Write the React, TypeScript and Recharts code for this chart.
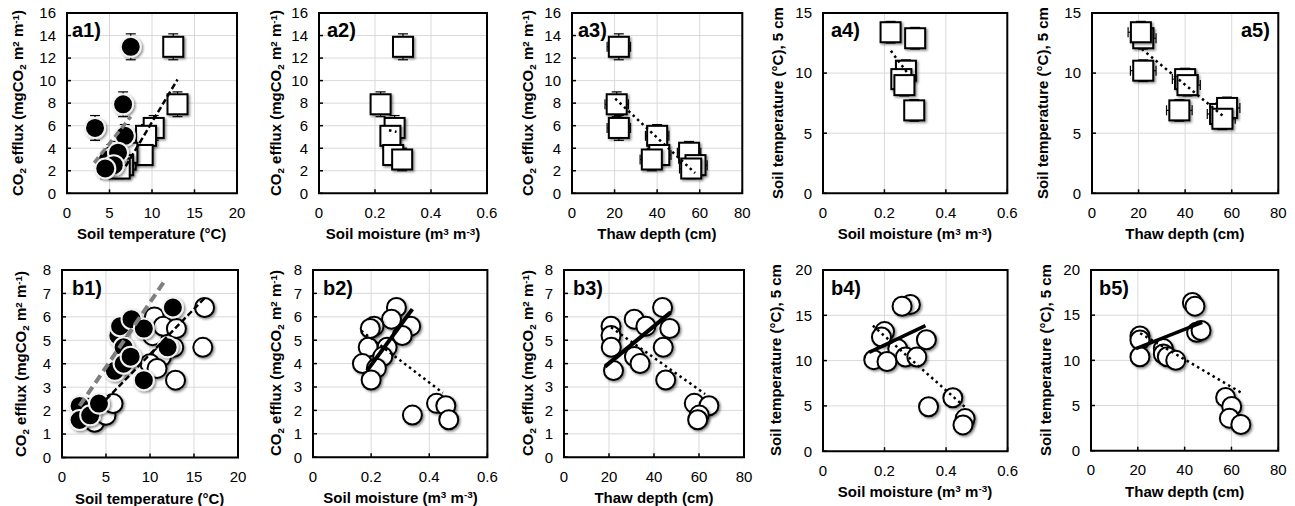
import React from 'react';
import {
  ScatterChart,
  Scatter,
  XAxis,
  YAxis,
  CartesianGrid,
  ErrorBar,
  ReferenceArea,
} from 'recharts';

const FONT = '"Liberation Sans", Arial, Helvetica, sans-serif';

// ---------- Row a (9 sampling points) ----------
const aEfflux = [13.0, 7.9, 5.8, 5.1, 3.4, 3.0, 3.6, 2.5, 2.2];
const aEffluxErr = [1.15, 1.1, 1.1, 1.0, 0.9, 1.0, 1.0, 1.0, 0.9];
const aTempSquare = [12.5, 13.0, 10.2, 9.3, 8.9, 6.9, 7.1, 6.6, 6.2];
const aTempCircle = [7.5, 6.6, 3.3, 6.8, 5.2, 4.8, 6.0, 5.5, 4.5];
const aMoisture: (number | null)[] = [0.3, 0.22, 0.27, 0.255, 0.265, 0.297, null, null, null];
const aDepth = [22, 21, 22, 40, 41, 37.5, 55, 58, 56];
const aDepthErr = [5.5, 5.5, 5.5, 5.5, 5.5, 5.5, 5.5, 5.5, 5.5];
const aTemp5 = [12.9, 13.4, 10.2, 9.5, 9.0, 6.9, 6.6, 7.1, 6.2];
const aTemp5Err = [0.9, 0.9, 0.9, 0.9, 0.9, 0.9, 0.9, 0.9, 0.9];

// ---------- Row b ----------
const b1BlackTemp = [2.0, 2.0, 3.2, 4.2, 6.0, 6.4, 6.6, 7.0, 7.0, 7.8, 7.9, 9.3, 9.3, 12.0, 12.6];
const b1BlackEfflux = [2.2, 1.6, 1.8, 2.3, 3.7, 5.2, 5.6, 4.7, 4.0, 4.3, 5.9, 5.5, 3.3, 4.7, 6.4];
const b1WhiteTemp = [3.0, 3.7, 5.0, 5.8, 10.5, 10.3, 11.5, 13.0, 12.7, 11.3, 10.0, 10.8, 12.9, 16.0, 16.2];
const b1WhiteEfflux = [2.1, 1.5, 1.8, 2.3, 6.0, 5.2, 5.6, 5.5, 4.7, 4.3, 4.0, 3.8, 3.3, 4.7, 6.4];

const b2Moisture = [0.287, 0.27, 0.336, 0.21, 0.197, 0.307, 0.19, 0.255, 0.24, 0.17, 0.218, 0.2, 0.425, 0.457, 0.342, 0.467];
const b2Efflux = [6.4, 5.9, 5.6, 5.6, 5.5, 5.2, 4.7, 4.7, 4.3, 4.0, 3.8, 3.3, 2.3, 2.2, 1.8, 1.6];

const b3Depth = [43.8, 31.2, 20.9, 36.4, 47, 20.9, 21, 44.1, 31.3, 33.8, 22, 45.2, 57.9, 64.4, 60.1, 59.4];
const b3Efflux = [6.4, 5.9, 5.6, 5.6, 5.5, 5.2, 4.7, 4.7, 4.3, 4.0, 3.7, 3.3, 2.3, 2.2, 1.8, 1.6];

const b4Moisture = [0.284, 0.257, 0.2, 0.19, 0.336, 0.243, 0.165, 0.208, 0.268, 0.305, 0.422, 0.343, 0.462, 0.455];
const b4Temp = [16.2, 16.0, 13.2, 12.6, 12.3, 11.3, 10.1, 9.9, 10.4, 10.4, 5.9, 4.9, 3.6, 2.9];

const b5Depth = [43.3, 44.4, 20.9, 20.9, 45.1, 47.0, 30.9, 30.9, 32.6, 20.9, 36.2, 57.5, 60.1, 59.1, 64.0];
const b5Temp = [16.4, 16.0, 12.7, 12.25, 13.1, 13.3, 11.3, 10.7, 10.4, 10.4, 10.0, 5.9, 4.9, 3.6, 2.9];

// trend lines: [x1, y1, x2, y2]
const a1GrayTrend = [3.2, 2.7, 7.5, 6.8];
const a1BlackTrend = [6.9, 2.4, 13.0, 10.1];
const a2Trend = [0.25, 5.6, 0.277, 5.45];
const a3Trend = [20.3, 8.4, 57.8, 1.8];
const a4Trend = [0.221, 11.85, 0.278, 9.9];
const a5Trend = [21.4, 12.0, 57.1, 6.3];
const b1GrayTrend = [2.0, 2.2, 11.6, 7.5];
const b1BlackTrend = [4.3, 2.2, 16.2, 6.8];
const b2Solid = [0.186, 3.7, 0.342, 6.33];
const b2Dotted = [0.166, 5.4, 0.447, 2.75];
const b3Solid = [18.2, 3.87, 47.4, 6.19];
const b3Dotted = [20.9, 5.55, 62.7, 2.7];
const b4Solid = [0.15, 10.9, 0.333, 13.86];
const b4Dotted = [0.162, 13.86, 0.462, 4.85];
const b5Solid = [19.2, 11.3, 47.5, 14.2];
const b5Dotted = [21, 13.0, 64.3, 6.4];

const tempTicks = [0, 5, 10, 15, 20];
const moistTicks = [0, 0.2, 0.4, 0.6];
const depthTicks = [0, 20, 40, 60, 80];
const aEffluxTicks = [0, 2, 4, 6, 8, 10, 12, 14, 16];
const aTempTicks = [0, 5, 10, 15];
const bEffluxTicks = [0, 1, 2, 3, 4, 5, 6, 7, 8];
const bTempTicks = [0, 5, 10, 15, 20];

type Pt = { x: number; y: number; ex?: number; ey?: number };

function build(
  xs: (number | null)[],
  ys: (number | null)[],
  exs?: number[],
  eys?: number[]
): Pt[] {
  const out: Pt[] = [];
  xs.forEach((x, i) => {
    const y = ys[i];
    if (x == null || y == null) return;
    const p: Pt = { x, y };
    if (exs) p.ex = exs[i];
    if (eys) p.ey = eys[i];
    out.push(p);
  });
  return out;
}

const Square = (p: any) => (
  <rect
    x={p.cx - 10}
    y={p.cy - 10}
    width={20}
    height={20}
    fill="#fff"
    stroke="#000"
    strokeWidth={2}
    filter="url(#shd)"
  />
);
const BlackDot = (p: any) => (
  <circle cx={p.cx} cy={p.cy} r={10} fill="#000" stroke="#f2f2f2" strokeWidth={2} filter="url(#shd)" />
);
const WhiteDot = (p: any) => (
  <circle cx={p.cx} cy={p.cy} r={9.5} fill="#fff" stroke="#000" strokeWidth={2} filter="url(#shd)" />
);
const NoShape = () => <g />;

type SeriesDef = { data: Pt[]; shape: any; ex?: boolean; ey?: boolean };
type LineDef = { seg: number[]; color: string; width: number; dash?: string };

const DOT = '2.5 3.5';

const Sub = ({ c }: { c: string }) => (
  <span style={{ fontSize: '0.66em', position: 'relative', top: '0.3em' }}>{c}</span>
);
const Sup = ({ c }: { c: string }) => (
  <span style={{ fontSize: '0.66em', position: 'relative', top: '-0.45em' }}>{c}</span>
);

const EffluxTitle = (
  <>
    CO<Sub c="2" /> efflux (mgCO<Sub c="2" /> m<Sup c="2" /> m<Sup c="-1" />)
  </>
);
const TempTitle = <>Soil temperature (°C), 5 cm</>;
const XTemp = <>Soil temperature (°C)</>;
const XMoist = (
  <>
    Soil moisture (m<Sup c="3" /> m<Sup c="-3" />)
  </>
);
const XDepth = <>Thaw depth (cm)</>;

const Txt = ({ x, y, rot, children }: any) => (
  <div
    style={{
      position: 'absolute',
      left: x,
      top: y,
      transform: `translate(-50%, -50%)${rot ? ' rotate(-90deg)' : ''}`,
      whiteSpace: 'nowrap',
      fontFamily: FONT,
      fontWeight: 'bold',
      fontSize: 15,
      lineHeight: 1,
      color: '#000',
    }}
  >
    {children}
  </div>
);

type PanelProps = {
  l: number;
  r: number;
  t: number;
  b: number;
  xDomain: number[];
  xTicks: number[];
  yDomain: number[];
  yTicks: number[];
  series: SeriesDef[];
  lines: LineDef[];
  xTitle: React.ReactNode;
  yTitle: React.ReactNode;
  yTitleX: number;
  tag: string;
  tagX: number;
  tagY: number;
};

const ML = 60;
const MT = 10;
const MR = 12;
const MB = 60;

function Panel(p: PanelProps) {
  const w = p.r - p.l + ML + MR;
  const h = p.b - p.t + MT + MB;
  return (
    <>
      <div style={{ position: 'absolute', left: p.l - ML, top: p.t - MT }}>
        <ScatterChart width={w} height={h} margin={{ top: MT, right: MR, bottom: 0, left: 0 }}>
          <CartesianGrid stroke="#d9d9d9" strokeWidth={1} />
          <XAxis
            type="number"
            dataKey="x"
            domain={p.xDomain}
            ticks={p.xTicks}
            interval={0}
            height={MB}
            axisLine={false}
            tickLine={{ stroke: '#000', strokeWidth: 1.5 }}
            tickSize={-4}
            tickMargin={18}
            tick={{ fontSize: 15, fill: '#000', fontFamily: FONT }}
          />
          <YAxis
            type="number"
            dataKey="y"
            domain={p.yDomain}
            ticks={p.yTicks}
            interval={0}
            width={ML}
            axisLine={false}
            tickLine={{ stroke: '#000', strokeWidth: 1.5 }}
            tickSize={-4}
            tickMargin={15}
            tick={{ fontSize: 15, fill: '#000', fontFamily: FONT }}
          />
          <ReferenceArea
            x1={p.xDomain[0]}
            x2={p.xDomain[1]}
            y1={p.yDomain[0]}
            y2={p.yDomain[1]}
            fill="none"
            fillOpacity={0}
            stroke="#000"
            strokeWidth={2}
          />
          {p.series.map((s, i) => (
            <Scatter key={i} data={s.data} shape={s.shape} isAnimationActive={false}>
              {s.ey && <ErrorBar dataKey="ey" direction="y" width={5} stroke="#000" strokeWidth={1.2} />}
              {s.ex && <ErrorBar dataKey="ex" direction="x" width={5} stroke="#000" strokeWidth={1.2} />}
            </Scatter>
          ))}
          {p.lines.map((ln, i) => (
            <Scatter
              key={'l' + i}
              data={[
                { x: ln.seg[0], y: ln.seg[1] },
                { x: ln.seg[2], y: ln.seg[3] },
              ]}
              shape={NoShape}
              line={{ stroke: ln.color, strokeWidth: ln.width, strokeDasharray: ln.dash, fill: 'none' }}
              isAnimationActive={false}
            />
          ))}
        </ScatterChart>
      </div>
      <Txt x={(p.l + p.r) / 2} y={p.b + 40}>
        {p.xTitle}
      </Txt>
      <Txt x={p.yTitleX} y={(p.t + p.b) / 2} rot>
        {p.yTitle}
      </Txt>
      <div
        style={{
          position: 'absolute',
          left: p.tagX,
          top: p.tagY - 17,
          fontFamily: FONT,
          fontWeight: 'bold',
          fontSize: 20,
          lineHeight: '20px',
          color: '#000',
          whiteSpace: 'nowrap',
        }}
      >
        {p.tag}
      </div>
    </>
  );
}

export default function App() {
  const aRowT = 13;
  const aRowB = 193.3;
  const panels: PanelProps[] = [
    {
      l: 66.7, r: 236.7, t: aRowT, b: aRowB,
      xDomain: [0, 20], xTicks: tempTicks, yDomain: [0, 16], yTicks: aEffluxTicks,
      series: [
        { data: build(aTempSquare, aEfflux, undefined, aEffluxErr), shape: Square, ey: true },
        { data: build(aTempCircle, aEfflux, undefined, aEffluxErr), shape: BlackDot, ey: true },
      ],
      lines: [
        { seg: a1GrayTrend, color: '#7f7f7f', width: 3.5, dash: '7 4' },
        { seg: a1BlackTrend, color: '#000', width: 2.5, dash: '6 3' },
      ],
      xTitle: XTemp, yTitle: EffluxTitle, yTitleX: 17, tag: 'a1)', tagX: 72, tagY: 37,
    },
    {
      l: 319, r: 487, t: aRowT, b: aRowB,
      xDomain: [0, 0.6], xTicks: moistTicks, yDomain: [0, 16], yTicks: aEffluxTicks,
      series: [{ data: build(aMoisture, aEfflux, undefined, aEffluxErr), shape: Square, ey: true }],
      lines: [{ seg: a2Trend, color: '#000', width: 2.5, dash: DOT }],
      xTitle: XMoist, yTitle: EffluxTitle, yTitleX: 275, tag: 'a2)', tagX: 327, tagY: 37,
    },
    {
      l: 571.7, r: 742, t: aRowT, b: aRowB,
      xDomain: [0, 80], xTicks: depthTicks, yDomain: [0, 16], yTicks: aEffluxTicks,
      series: [{ data: build(aDepth, aEfflux, aDepthErr, aEffluxErr), shape: Square, ey: true, ex: true }],
      lines: [{ seg: a3Trend, color: '#000', width: 2.5, dash: DOT }],
      xTitle: XDepth, yTitle: EffluxTitle, yTitleX: 527, tag: 'a3)', tagX: 578, tagY: 37,
    },
    {
      l: 822.7, r: 1007, t: aRowT, b: aRowB,
      xDomain: [0, 0.6], xTicks: moistTicks, yDomain: [0, 15], yTicks: aTempTicks,
      series: [{ data: build(aMoisture, aTemp5, undefined, aTemp5Err), shape: Square, ey: true }],
      lines: [{ seg: a4Trend, color: '#000', width: 2.5, dash: DOT }],
      xTitle: XMoist, yTitle: TempTitle, yTitleX: 777, tag: 'a4)', tagX: 831, tagY: 37,
    },
    {
      l: 1091.7, r: 1278, t: aRowT, b: aRowB,
      xDomain: [0, 80], xTicks: depthTicks, yDomain: [0, 15], yTicks: aTempTicks,
      series: [{ data: build(aDepth, aTemp5, aDepthErr, aTemp5Err), shape: Square, ey: true, ex: true }],
      lines: [{ seg: a5Trend, color: '#000', width: 2.5, dash: DOT }],
      xTitle: XDepth, yTitle: TempTitle, yTitleX: 1042, tag: 'a5)', tagX: 1241, tagY: 37,
    },
    {
      l: 61.7, r: 237.7, t: 270, b: 457.5,
      xDomain: [0, 20], xTicks: tempTicks, yDomain: [0, 8], yTicks: bEffluxTicks,
      series: [
        { data: build(b1WhiteTemp, b1WhiteEfflux), shape: WhiteDot },
        { data: build(b1BlackTemp, b1BlackEfflux), shape: BlackDot },
      ],
      lines: [
        { seg: b1GrayTrend, color: '#7f7f7f', width: 4, dash: '9 5' },
        { seg: b1BlackTrend, color: '#000', width: 2.5, dash: '6 3' },
      ],
      xTitle: XTemp, yTitle: EffluxTitle, yTitleX: 20, tag: 'b1)', tagX: 72, tagY: 295,
    },
    {
      l: 313.3, r: 487.7, t: 269.5, b: 456.7,
      xDomain: [0, 0.6], xTicks: moistTicks, yDomain: [0, 8], yTicks: bEffluxTicks,
      series: [{ data: build(b2Moisture, b2Efflux), shape: WhiteDot }],
      lines: [
        { seg: b2Dotted, color: '#000', width: 2.5, dash: DOT },
        { seg: b2Solid, color: '#000', width: 4 },
      ],
      xTitle: XMoist, yTitle: EffluxTitle, yTitleX: 275, tag: 'b2)', tagX: 323, tagY: 295,
    },
    {
      l: 564, r: 744, t: 269.5, b: 456.7,
      xDomain: [0, 80], xTicks: depthTicks, yDomain: [0, 8], yTicks: bEffluxTicks,
      series: [{ data: build(b3Depth, b3Efflux), shape: WhiteDot }],
      lines: [
        { seg: b3Dotted, color: '#000', width: 2.5, dash: DOT },
        { seg: b3Solid, color: '#000', width: 4 },
      ],
      xTitle: XDepth, yTitle: EffluxTitle, yTitleX: 527, tag: 'b3)', tagX: 573, tagY: 295,
    },
    {
      l: 822.7, r: 1007.3, t: 269.5, b: 450.7,
      xDomain: [0, 0.6], xTicks: moistTicks, yDomain: [0, 20], yTicks: bTempTicks,
      series: [{ data: build(b4Moisture, b4Temp), shape: WhiteDot }],
      lines: [
        { seg: b4Dotted, color: '#000', width: 2.5, dash: DOT },
        { seg: b4Solid, color: '#000', width: 3.5 },
      ],
      xTitle: XMoist, yTitle: TempTitle, yTitleX: 775, tag: 'b4)', tagX: 831, tagY: 295,
    },
    {
      l: 1091, r: 1278.3, t: 270, b: 450.7,
      xDomain: [0, 80], xTicks: depthTicks, yDomain: [0, 20], yTicks: bTempTicks,
      series: [{ data: build(b5Depth, b5Temp), shape: WhiteDot }],
      lines: [
        { seg: b5Dotted, color: '#000', width: 2.5, dash: DOT },
        { seg: b5Solid, color: '#000', width: 3.5 },
      ],
      xTitle: XDepth, yTitle: TempTitle, yTitleX: 1045, tag: 'b5)', tagX: 1099, tagY: 295,
    },
  ];

  return (
    <div
      style={{
        position: 'absolute',
        left: 0,
        top: 0,
        width: 1295,
        height: 506,
        background: '#fff',
        overflow: 'hidden',
        fontFamily: FONT,
      }}
    >
      <svg width={0} height={0} style={{ position: 'absolute' }}>
        <defs>
          <filter id="shd" x="-50%" y="-50%" width="200%" height="200%">
            <feDropShadow dx={1.5} dy={1.5} stdDeviation={1.3} floodColor="#000" floodOpacity={0.45} />
          </filter>
        </defs>
      </svg>
      {panels.map((p, i) => (
        <Panel key={i} {...p} />
      ))}
    </div>
  );
}
